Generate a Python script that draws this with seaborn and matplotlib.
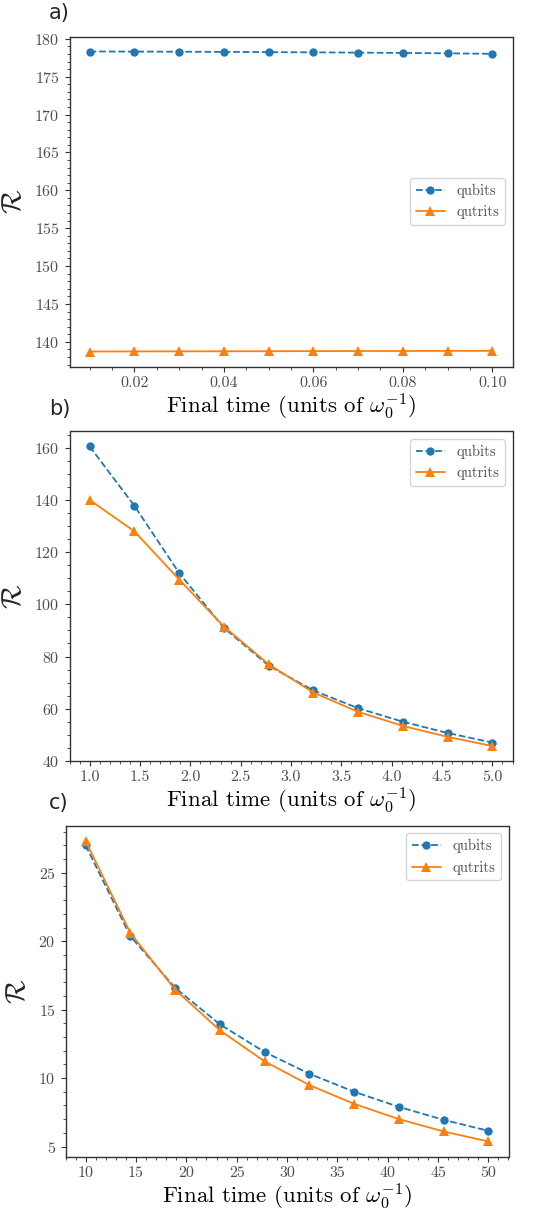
import matplotlib
import matplotlib.pyplot as plt
from matplotlib.ticker import MultipleLocator, AutoMinorLocator, FormatStrFormatter
import pandas as pd
import seaborn as sns
matplotlib.use('Agg')

# panel a
time_a = [0.01, 0.02, 0.03, 0.04, 0.05, 0.06, 0.07, 0.08, 0.09, 0.10]
qubits_a = [178.33, 178.32, 178.30, 178.28, 178.25, 178.22, 178.18, 178.14, 178.09, 178.02]
qutrits_a = [138.72, 138.73, 138.74, 138.75, 138.76, 138.77, 138.78, 138.79, 138.80, 138.81]

# panel b
time_b = [1.0, 1.444, 1.889, 2.333, 2.778, 3.222, 3.667, 4.111, 4.556, 5.0]
qubits_b = [160.5, 137.8, 112.0, 91.0, 76.5, 67.0, 60.2, 55.0, 50.7, 47.0]
qutrits_b = [140.0, 128.0, 109.5, 91.5, 77.0, 66.2, 58.8, 53.4, 49.2, 45.7]

# panel c
time_c = [10.0, 14.44, 18.89, 23.33, 27.78, 32.22, 36.67, 41.11, 45.56, 50.0]
qubits_c = [27.0, 20.37, 16.59, 13.93, 11.9, 10.32, 9.0, 7.9, 6.95, 6.15]
qutrits_c = [27.32, 20.6, 16.46, 13.49, 11.22, 9.49, 8.12, 7.0, 6.1, 5.37]

panel_labels = ['a)', 'b)', 'c)']
legend_locs = ['center right', 'upper right', 'upper right']
x_steps = [0.02, 0.5, 5]
x_formats = ['%.2f', '%.1f', '%d']
y_steps = [5, 20, 5]

sns.set_style('ticks')
plt.rcParams['font.family'] = 'serif'
plt.rcParams['font.serif'] = ['cmr10', 'DejaVu Serif']
plt.rcParams['mathtext.fontset'] = 'cm'
plt.rcParams['axes.formatter.use_mathtext'] = True
plt.rcParams['axes.edgecolor'] = '0.2'
plt.rcParams['xtick.color'] = '0.2'
plt.rcParams['ytick.color'] = '0.2'

W, H = 534, 1211
fig = plt.figure(figsize=(W / 100, H / 100), dpi=100)

# axes boxes in pixels: left, top, right, bottom
boxes = [(69.5, 36.5, 512.5, 366.5),
         (69.5, 431.5, 512.5, 761),
         (65.5, 826, 508.5, 1156.5)]

panels = [(time_a, qubits_a, qutrits_a),
          (time_b, qubits_b, qutrits_b),
          (time_c, qubits_c, qutrits_c)]

for i, (t, qb, qt) in enumerate(panels):
    l, tp, r, b = boxes[i]
    ax = fig.add_axes([l / W, 1 - b / H, (r - l) / W, (b - tp) / H])
    df = pd.DataFrame({'t': t, 'qubits': qb, 'qutrits': qt})
    sns.lineplot(data=df, x='t', y='qubits', ax=ax, color='#1f77b4', linestyle='--',
                 marker='o', markersize=6, markeredgewidth=0, label='qubits', linewidth=1.3)
    sns.lineplot(data=df, x='t', y='qutrits', ax=ax, color='#ff7f0e', linestyle='-',
                 marker='^', markersize=7, markeredgewidth=0, label='qutrits', linewidth=1.3)
    ax.xaxis.set_major_locator(MultipleLocator(x_steps[i]))
    ax.xaxis.set_major_formatter(FormatStrFormatter(x_formats[i]))
    ax.yaxis.set_major_locator(MultipleLocator(y_steps[i]))
    ax.xaxis.set_minor_locator(AutoMinorLocator())
    ax.yaxis.set_minor_locator(AutoMinorLocator())
    ax.tick_params(labelsize=11.5, labelcolor='0.3')
    ax.set_xlabel(r'Final time (units of $\omega_0^{-1}$)', fontsize=16.5, color='black', labelpad=1)
    ax.set_ylabel(r'$\mathcal{R}$', fontsize=20, labelpad=5)
    for s in ax.spines.values():
        s.set_linewidth(1.0)
    leg = ax.legend(loc=legend_locs[i], fontsize=10.5, handlelength=2.0)
    for txt in leg.get_texts():
        txt.set_color('0.3')
    fig.text(49 / W, 1 - (tp - 13) / H, panel_labels[i], fontsize=15,
             family='DejaVu Sans', va='bottom', ha='left')

fig.savefig('out.png', dpi=100)
